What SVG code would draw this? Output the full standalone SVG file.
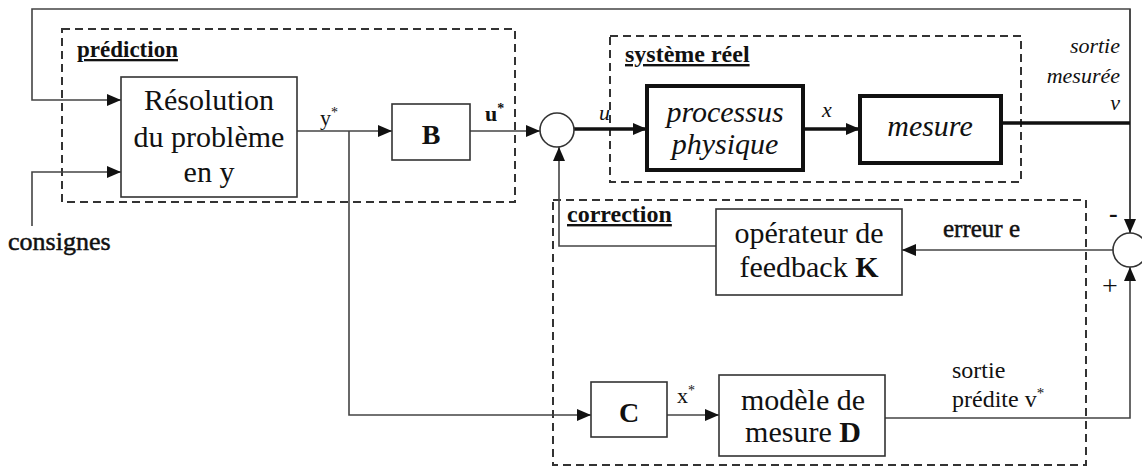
<svg xmlns="http://www.w3.org/2000/svg" width="1142" height="467" viewBox="0 0 1142 467">
<defs>
<marker id="ah" markerUnits="userSpaceOnUse" markerWidth="14" markerHeight="12" refX="14" refY="6" orient="auto">
<path d="M0,0 L14,6 L0,12 Z" fill="#111"/>
</marker>
</defs>
<style>
.thin{fill:none;stroke:#444;stroke-width:1.6}
.thick{fill:none;stroke:#111;stroke-width:3.5}
.box{fill:#fff;stroke:#333;stroke-width:1.6}
.tbox{fill:#fff;stroke:#111;stroke-width:4}
.dash{fill:none;stroke:#333;stroke-width:2;stroke-dasharray:8 5}
text{font-family:"Liberation Serif","Times New Roman",Times,serif;fill:#111}
.big{font-size:30px}
.lab{font-size:23px;font-weight:bold;text-decoration:underline}
.it{font-style:italic}
.semi{stroke:#111;stroke-width:0.5}
</style>
<rect width="1142" height="467" fill="#fff"/>

<g id="groups">
<rect id="prediction" class="dash" x="62" y="29" width="453" height="173"/>
<rect id="systeme" class="dash" x="610" y="36" width="411" height="146"/>
<rect id="correction" class="dash" x="553" y="200" width="533" height="265"/>
<text class="lab" x="77" y="57">prédiction</text>
<text class="lab" x="625" y="62" style="font-size:24px">système réel</text>
<text class="lab" x="567" y="222" style="font-size:24px">correction</text>
</g>

<g id="connectors">
<polyline class="thin" points="1130,233 1130,9 32,9 32,100 121,100" marker-end="url(#ah)"/>
<line class="thin" x1="1130" y1="9" x2="1130" y2="233" marker-end="url(#ah)"/>
<polyline class="thin" points="32,226 32,172 121,172" marker-end="url(#ah)"/>
<line class="thin" x1="297" y1="131" x2="392" y2="131" marker-end="url(#ah)"/>
<line class="thin" x1="470" y1="131" x2="540" y2="131" marker-end="url(#ah)"/>
<line class="thick" x1="574" y1="129" x2="647" y2="129" marker-end="url(#ah)"/>
<line class="thick" x1="803" y1="129" x2="860" y2="129" marker-end="url(#ah)"/>
<line class="thick" x1="1001" y1="123" x2="1130" y2="123"/>
<line class="thin" x1="1113" y1="250" x2="902" y2="250" marker-end="url(#ah)"/>
<polyline class="thin" points="716,246 559,246 559,147" marker-end="url(#ah)"/>
<polyline class="thin" points="349,131 349,415 591,415" marker-end="url(#ah)"/>
<line class="thin" x1="667" y1="415" x2="719" y2="415" marker-end="url(#ah)"/>
<polyline class="thin" points="885,418 1130,418 1130,267" marker-end="url(#ah)"/>
<text x="320" y="125" style="font-size:22px">y<tspan dy="-8" font-size="14">*</tspan></text>
<text x="485" y="121" style="font-size:22px;font-weight:bold">u<tspan dy="-8" font-size="14">*</tspan></text>
<text class="it" x="599" y="120" style="font-size:22px">u</text>
<text class="it" x="822" y="117" style="font-size:22px">x</text>
<text class="it" x="1120" y="53" text-anchor="end" style="font-size:22px">sortie</text>
<text class="it" x="1120" y="83" text-anchor="end" style="font-size:22px">mesurée</text>
<text class="it" x="1120" y="110" text-anchor="end" style="font-size:22px">v</text>
<text class="semi" x="943" y="237" style="font-size:25px">erreur e</text>
<text x="1109" y="222" style="font-size:26px;font-weight:bold">-</text>
<text x="1102" y="295" style="font-size:28px">+</text>
<text x="952" y="378" style="font-size:24px">sortie</text>
<text x="952" y="407" style="font-size:24px">prédite v<tspan dy="-9" font-size="15">*</tspan></text>
<text x="677" y="403" style="font-size:22px">x<tspan dy="-8" font-size="14">*</tspan></text>
<text class="semi" x="8" y="250" style="font-size:26px">consignes</text>
</g>

<g id="resolution">
<rect class="box" x="121" y="77" width="176" height="120"/>
<text class="big" x="209" y="110" text-anchor="middle">Résolution</text>
<text class="big" x="209" y="147" text-anchor="middle">du problème</text>
<text class="big" x="209" y="182" text-anchor="middle">en y</text>
</g>

<g id="B">
<rect class="box" x="392" y="104" width="78" height="56"/>
<text x="431" y="144" text-anchor="middle" style="font-size:28px;font-weight:bold">B</text>
</g>

<g id="sum1">
<circle class="box" cx="557" cy="130" r="17"/>
</g>

<g id="processus">
<rect class="tbox" x="647" y="86" width="156" height="84"/>
<text class="big it" x="725" y="122" text-anchor="middle">processus</text>
<text class="big it" x="725" y="154" text-anchor="middle">physique</text>
</g>

<g id="mesure">
<rect class="tbox" x="860" y="96" width="141" height="67"/>
<text class="big it" x="930" y="136" text-anchor="middle">mesure</text>
</g>

<g id="sum2">
<circle class="box" cx="1130" cy="250" r="17"/>
</g>

<g id="K">
<rect class="box" x="716" y="209" width="186" height="86"/>
<text class="big" x="809" y="243" text-anchor="middle">opérateur de</text>
<text class="big" x="809" y="277" text-anchor="middle">feedback <tspan font-weight="bold">K</tspan></text>
</g>

<g id="C">
<rect class="box" x="591" y="382" width="76" height="55"/>
<text x="629" y="422" text-anchor="middle" style="font-size:28px;font-weight:bold">C</text>
</g>

<g id="D">
<rect class="box" x="719" y="375" width="166" height="81"/>
<text class="big" x="803" y="410" text-anchor="middle">modèle de</text>
<text class="big" x="803" y="442" text-anchor="middle">mesure <tspan font-weight="bold">D</tspan></text>
</g>
</svg>
